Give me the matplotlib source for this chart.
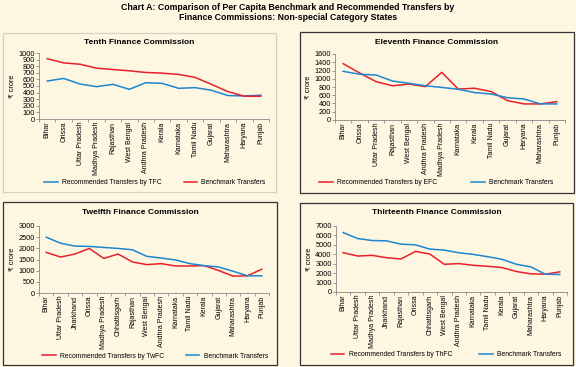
import numpy as np
import matplotlib
matplotlib.use("Agg")
import matplotlib.pyplot as plt
from matplotlib.patches import Rectangle

plt.rcParams['font.family'] = ['Liberation Sans', 'DejaVu Sans']

BG = '#fdf6e1'
RED = '#e8212b'
BLUE = '#1d86d1'

# ---- data (Rs crore, per capita) ----
tenth_states = ['Bihar', 'Orissa', 'Uttar Pradesh', 'Madhya Pradesh', 'Rajasthan',
                'West Bengal', 'Andhra Pradesh', 'Kerala', 'Karnataka', 'Tamil Nadu',
                'Gujarat', 'Maharashtra', 'Haryana', 'Punjab']
tenth_rec = [575, 615, 530, 490, 525, 450, 550, 540, 465, 475, 435, 355, 350, 360]
tenth_bench = [915, 850, 830, 770, 750, 730, 705, 695, 675, 630, 525, 415, 345, 345]

eleventh_states = ['Bihar', 'Orissa', 'Uttar Pradesh', 'Rajasthan', 'West Bengal',
                   'Andhra Pradesh', 'Madhya Pradesh', 'Karnataka', 'Kerala', 'Tamil Nadu',
                   'Gujarat', 'Haryana', 'Maharashtra', 'Punjab']
eleventh_rec = [1366, 1140, 930, 830, 870, 810, 1155, 750, 770, 690, 470, 390, 390, 445]
eleventh_bench = [1180, 1110, 1090, 945, 890, 830, 790, 745, 665, 630, 540, 510, 390, 390]

twelfth_states = ['Bihar', 'Uttar Pradesh', 'Jharkhand', 'Orissa', 'Madhya Pradesh',
                  'Chhattisgarh', 'Rajasthan', 'West Bengal', 'Andhra Pradesh', 'Karnataka',
                  'Tamil Nadu', 'Kerala', 'Gujarat', 'Maharashtra', 'Haryana', 'Punjab']
twelfth_rec = [1820, 1610, 1745, 1995, 1550, 1745, 1390, 1270, 1315, 1210, 1210, 1225,
               1005, 755, 770, 1065]
twelfth_bench = [2500, 2230, 2100, 2085, 2040, 1995, 1935, 1640, 1565, 1480, 1315, 1225,
                 1165, 975, 770, 770]

thirteenth_states = ['Bihar', 'Uttar Pradesh', 'Madhya Pradesh', 'Jharkhand', 'Rajasthan',
                     'Orissa', 'Chhattisgarh', 'West Bengal', 'Andhra Pradesh', 'Karnataka',
                     'Tamil Nadu', 'Kerala', 'Gujarat', 'Maharashtra', 'Haryana', 'Punjab']
thirteenth_rec = [4165, 3815, 3885, 3640, 3500, 4305, 4025, 2940, 3010, 2835, 2730, 2590,
                  2170, 1925, 1890, 2135]
thirteenth_bench = [6300, 5670, 5460, 5425, 5075, 5005, 4550, 4445, 4165, 3990, 3745, 3465,
                    2940, 2660, 1890, 1855]

W, H = 576, 367
fig = plt.figure(figsize=(W / 100, H / 100), dpi=100, facecolor=BG)


def px_rect(x0, y0, x1, y1):
    return [x0 / W, 1 - y1 / H, (x1 - x0) / W, (y1 - y0) / H]


def panel(box, edge, ax_box, title, states, rec, bench, rec_label, rec_color, bench_color,
          ymax, ystep, leg_xy, leg_gap):
    x0, y0, x1, y1 = box
    fig.patches.append(Rectangle((x0 / W, 1 - y1 / H), (x1 - x0) / W, (y1 - y0) / H,
                                 transform=fig.transFigure, facecolor='none',
                                 edgecolor=edge, lw=0.9, zorder=-1))
    ax = fig.add_axes(px_rect(*ax_box))
    ax.set_facecolor('none')
    x = np.arange(len(states))
    l1, = ax.plot(x, rec, color=rec_color, lw=1.1)
    l2, = ax.plot(x, bench, color=bench_color, lw=1.1)
    ax.set_xlim(-0.5, len(states) - 0.5)
    ax.set_ylim(0, ymax)
    ax.set_yticks(np.arange(0, ymax + 1, ystep))
    ax.set_xticks(np.arange(len(states) + 1) - 0.5)
    ax.set_xticklabels([])
    ax.set_xticks(x, minor=True)
    ax.set_xticklabels(states, minor=True, rotation=90, fontsize=5)
    ax.tick_params(axis='x', which='minor', length=0, pad=2)
    ax.tick_params(axis='x', which='major', length=2, width=0.5, color='#777777')
    ax.tick_params(axis='y', labelsize=5.3, length=2, width=0.5, color='#777777', pad=1)
    for s in ['top', 'right']:
        ax.spines[s].set_visible(False)
    for s in ['left', 'bottom']:
        ax.spines[s].set_color('#888888')
        ax.spines[s].set_linewidth(0.6)
    ax.set_ylabel('₹ crore', fontsize=5.3, labelpad=2)
    fig.text((x0 + x1) / 2 / W, 1 - (y0 + 10) / H, title, ha='center', va='center',
             fontsize=6, fontweight='bold')
    fig.legend([l1, l2], [rec_label, 'Benchmark Transfers'], loc='center',
               bbox_to_anchor=(leg_xy[0] / W, 1 - leg_xy[1] / H), ncol=2, frameon=False,
               fontsize=4.9, handlelength=2.0, handletextpad=0.6, columnspacing=leg_gap)
    return ax


panel((3, 33, 276, 192), '#d5d2c4', (39, 53, 269, 119), 'Tenth Finance Commission',
      tenth_states, tenth_rec, tenth_bench, 'Recommended Transfers by TFC', BLUE, RED,
      1000, 100, (155, 183), 3.2)
panel((300, 32, 574, 193), '#333333', (335, 54, 565, 120), 'Eleventh Finance Commission',
      eleventh_states, eleventh_rec, eleventh_bench, 'Recommended Transfers by EFC', RED, BLUE,
      1600, 200, (436, 183), 5.0)
panel((3, 202, 277, 365), '#333333', (39, 226, 269, 293), 'Twelfth Finance Commission',
      twelfth_states, twelfth_rec, twelfth_bench, 'Recommended Transfers by TwFC', RED, BLUE,
      3000, 500, (155, 356), 3.2)
panel((300, 203, 573, 365), '#333333', (336, 226, 567, 292), 'Thirteenth Finance Commission',
      thirteenth_states, thirteenth_rec, thirteenth_bench, 'Recommended Transfers by ThFC',
      RED, BLUE, 7000, 1000, (446, 355), 4.0)

fig.text(0.5, 1 - 8 / H, 'Chart A: Comparison of Per Capita Benchmark and Recommended Transfers by',
         ha='center', va='center', fontsize=6.3, fontweight='bold')
fig.text(0.5, 1 - 18 / H, 'Finance Commissions: Non-special Category States',
         ha='center', va='center', fontsize=6.3, fontweight='bold')

fig.savefig('out.png', dpi=100, facecolor=BG)
